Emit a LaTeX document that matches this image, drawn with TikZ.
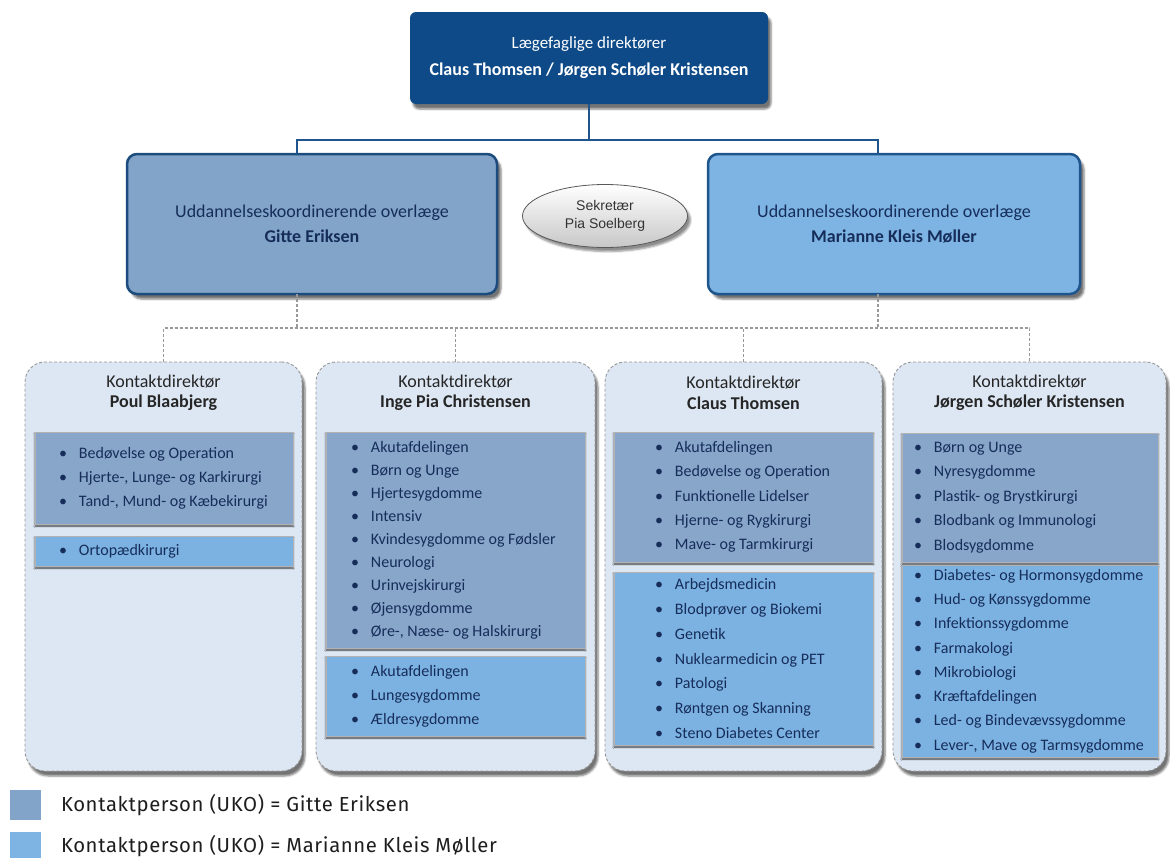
\documentclass[tikz,border=0pt]{standalone}
\usepackage{fontspec}
\setmainfont{Carlito}
\newfontfamily\arialf{Liberation Sans}
\newfontfamily\legf[LetterSpace=3]{Fira Sans}
\usetikzlibrary{shapes.geometric,shadows.blur}

\definecolor{topblue}{RGB}{14,74,135}
\definecolor{linkblue}{RGB}{31,84,140}
\definecolor{ukoL}{RGB}{130,164,201}
\definecolor{ukoLb}{RGB}{28,76,125}
\definecolor{ukoR}{RGB}{125,180,228}
\definecolor{ukoRb}{RGB}{30,85,140}
\definecolor{kfill}{RGB}{220,231,243}
\definecolor{kgray}{RGB}{150,150,150}
\definecolor{banddark}{RGB}{135,166,201}
\definecolor{bandlight}{RGB}{124,178,226}
\definecolor{navy}{RGB}{22,45,90}
\definecolor{legtext}{RGB}{30,30,30}

\newcommand{\itm}[1]{\makebox[20pt][l]{\textbullet}#1}

\tikzset{
  every node/.style={inner sep=0pt, outer sep=0pt},
  topbox/.style={rounded corners=6pt, fill=topblue, text=white,
    minimum width=358pt, minimum height=92pt, align=center,
    font=\fontsize{17}{27}\selectfont,
    blur shadow={shadow xshift=3pt, shadow yshift=-5pt, shadow opacity=55}},
  ukobox/.style={rounded corners=10pt, line width=2.5pt, minimum width=370pt,
    minimum height=140pt, align=center, text=navy,
    font=\fontsize{18}{25.5}\selectfont,
    blur shadow={shadow xshift=4pt, shadow yshift=-5pt, shadow opacity=55}},
  secbox/.style={ellipse, draw=black!65, line width=0.8pt,
    top color=white, bottom color=black!22, minimum width=165pt,
    minimum height=63pt, align=center, text=black!80,
    font=\arialf\fontsize{14}{18}\selectfont,
    blur shadow={shadow xshift=3pt, shadow yshift=-4pt, shadow opacity=45}},
  kbox/.style={rounded corners=20pt, draw=kgray, densely dashed, line width=0.9pt,
    fill=kfill, minimum height=409pt, anchor=north west,
    blur shadow={shadow xshift=3pt, shadow yshift=-5pt, shadow opacity=55}},
  khead/.style={align=center, text=black!85, font=\fontsize{18}{20.5}\selectfont},
  band/.style={anchor=north west, draw=black!30, line width=0.4pt,
    blur shadow={shadow xshift=0pt, shadow yshift=-2pt, shadow opacity=70, shadow blur steps=3}},
  dband/.style={band, fill=banddark},
  lband/.style={band, fill=bandlight},
  lst/.style={anchor=west, align=left, text=navy, font=\fontsize{16}{24}\selectfont},
  solidline/.style={draw=linkblue, line width=2pt},
  dline/.style={draw=black!40, densely dashed, line width=1.3pt},
  legsq/.style={minimum width=31pt, minimum height=30pt},
  legtxt/.style={anchor=west, text=legtext, font=\legf\fontsize{20.3}{22}\selectfont}
}

\begin{document}
\begin{tikzpicture}[x=1pt,y=-1pt]
\useasboundingbox (0,0) rectangle (1170,857);

% top management
\node[topbox] (top) at (589,58)
  {Lægefaglige direktører\\
   \fontsize{18}{27}\selectfont\bfseries Claus Thomsen / Jørgen Schøler Kristensen};

% education coordinators and secretary
\node[ukobox, fill=ukoL, draw=ukoLb] (uL) at (312,224)
  {Uddannelseskoordinerende overlæge\\ \textbf{Gitte Eriksen}};
\node[ukobox, fill=ukoR, draw=ukoRb, minimum width=372pt] (uR) at (894,224)
  {Uddannelseskoordinerende overlæge\\ \textbf{Marianne Kleis Møller}};
\node[secbox] (sek) at (605,216) {Sekretær\\Pia Soelberg};

\coordinate (uLn) at ([xshift=-15pt]uL.north);
\coordinate (uRn) at ([xshift=-16pt]uR.north);
\coordinate (uLs) at ([xshift=-15pt]uL.south);
\coordinate (uRs) at ([xshift=-16pt]uR.south);

% contact director panels
\node[kbox, minimum width=277pt] (k1) at (25,362) {};
\node[kbox, minimum width=279pt] (k2) at (316,362) {};
\node[kbox, minimum width=277pt] (k3) at (605,362) {};
\node[kbox, minimum width=273pt] (k4) at (893,362) {};

% solid links from the top
\draw[solidline] (top.south) -- ++(0,36) coordinate (tj);
\draw[solidline] (uLn) |- (tj) -| (uRn);

% dashed links to the panels
\draw[dline] (k1.north) -- ++(0,-34) coordinate (bus) -| (k4.north);
\draw[dline] (k2.north) -- (k2.north |- bus);
\draw[dline] (k3.north) -- (k3.north |- bus);
\draw[dline] (uLs) -- (uLs |- bus);
\draw[dline] (uRs) -- (uRs |- bus);

% panel headers
\node[khead] (h1) at ([yshift=-31pt]k1.north) {Kontaktdirektør\\ \textbf{Poul Blaabjerg}};
\node[khead] (h2) at ([yshift=-31pt]k2.north) {Kontaktdirektør\\ \textbf{Inge Pia Christensen}};
\node[khead] (h3) at ([yshift=-31pt]k3.north) {Kontaktdirektør\\ \textbf{Claus Thomsen}};
\node[khead] (h4) at ([yshift=-31pt]k4.north) {Kontaktdirektør\\ \textbf{Jørgen Schøler Kristensen}};

% panel 1
\node[dband, minimum width=258pt, minimum height=92pt] (d1) at (35,432) {};
\node[lst] (l1) at ([xshift=24pt]d1.west)
  {\itm{Bedøvelse og Operation}\\ \itm{Hjerte-, Lunge- og Karkirurgi}\\ \itm{Tand-, Mund- og Kæbekirurgi}};
\node[lband, minimum width=258pt, minimum height=30pt] (e1) at (35,536) {};
\node[lst] (m1) at ([xshift=24pt]e1.west) {\itm{Ortopædkirurgi}};

% panel 2
\node[dband, minimum width=259pt, minimum height=216pt] (d2) at (326,432) {};
\node[lst, font=\fontsize{16}{23}\selectfont] (l2) at ([xshift=25pt]d2.west)
  {\itm{Akutafdelingen}\\ \itm{Børn og Unge}\\ \itm{Hjertesygdomme}\\ \itm{Intensiv}\\
   \itm{Kvindesygdomme og Fødsler}\\ \itm{Neurologi}\\ \itm{Urinvejskirurgi}\\
   \itm{Øjensygdomme}\\ \itm{Øre-, Næse- og Halskirurgi}};
\node[lband, minimum width=259pt, minimum height=80pt] (e2) at (326,656) {};
\node[lst] (m2) at ([xshift=25pt]e2.west)
  {\itm{Akutafdelingen}\\ \itm{Lungesygdomme}\\ \itm{Ældresygdomme}};

% panel 3
\node[dband, minimum width=259pt, minimum height=130pt] (d3) at (614,432) {};
\node[lst, font=\fontsize{16}{24.3}\selectfont] (l3) at ([xshift=41pt]d3.west)
  {\itm{Akutafdelingen}\\ \itm{Bedøvelse og Operation}\\ \itm{Funktionelle Lidelser}\\
   \itm{Hjerne- og Rygkirurgi}\\ \itm{Mave- og Tarmkirurgi}};
\node[lband, minimum width=259pt, minimum height=173pt] (e3) at (614,572) {};
\node[lst, font=\fontsize{16}{24.7}\selectfont] (m3) at ([xshift=41pt]e3.west)
  {\itm{Arbejdsmedicin}\\ \itm{Blodprøver og Biokemi}\\ \itm{Genetik}\\
   \itm{Nuklearmedicin og PET}\\ \itm{Patologi}\\ \itm{Røntgen og Skanning}\\
   \itm{Steno Diabetes Center}};

% panel 4
\node[dband, minimum width=256pt, minimum height=129pt] (d4) at (902,433) {};
\node[lst, font=\fontsize{16}{24.5}\selectfont] (l4) at ([xshift=12pt]d4.west)
  {\itm{Børn og Unge}\\ \itm{Nyresygdomme}\\ \itm{Plastik- og Brystkirurgi}\\
   \itm{Blodbank og Immunologi}\\ \itm{Blodsygdomme}};
\node[lband, minimum width=256pt, minimum height=192pt] (e4) at (902,565) {};
\node[lst, font=\fontsize{16}{24.3}\selectfont] (m4) at ([xshift=12pt]e4.west)
  {\itm{Diabetes- og Hormonsygdomme}\\ \itm{Hud- og Kønssygdomme}\\ \itm{Infektionssygdomme}\\
   \itm{Farmakologi}\\ \itm{Mikrobiologi}\\ \itm{Kræftafdelingen}\\
   \itm{Led- og Bindevævssygdomme}\\ \itm{Lever-, Mave og Tarmsygdomme}};

% legend
\node[legsq, fill=ukoL] (q1) at (25.5,805) {};
\node[legtxt] (t1) at (61,805) {Kontaktperson (UKO) = Gitte Eriksen};
\node[legsq, fill=ukoR] (q2) at (25.5,847) {};
\node[legtxt] (t2) at (61,846) {Kontaktperson (UKO) = Marianne Kleis Møller};
\end{tikzpicture}
\end{document}
